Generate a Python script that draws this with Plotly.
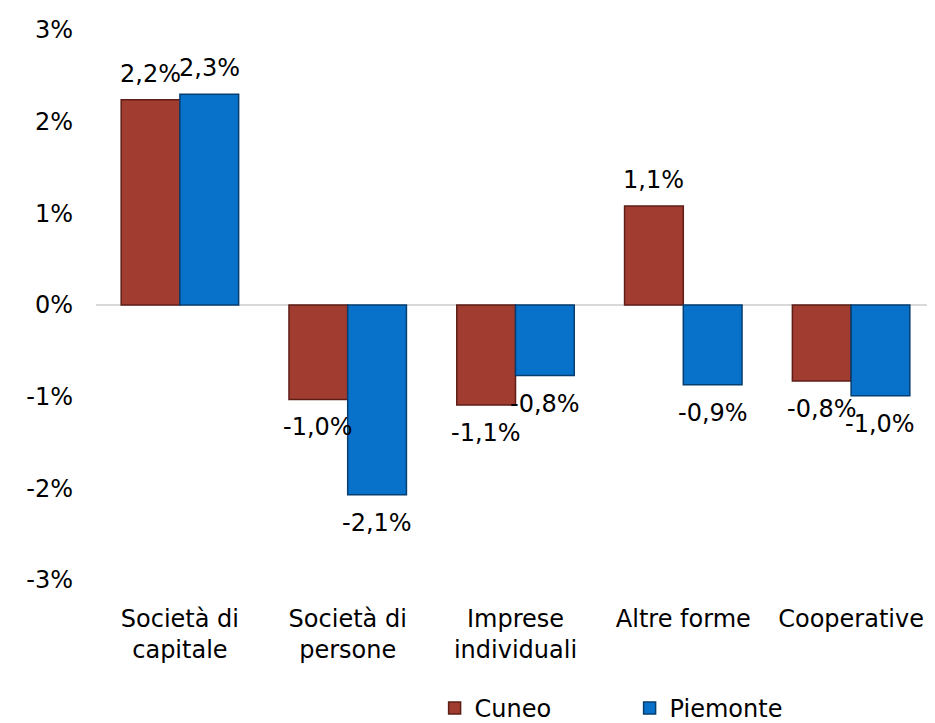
import plotly.graph_objects as go

categories = ["Società di<br>capitale", "Società di<br>persone", "Imprese<br>individuali", "Altre forme", "Cooperative"]
cuneo = [2.24, -1.03, -1.09, 1.08, -0.83]
piemonte = [2.30, -2.07, -0.77, -0.87, -0.99]
tick_vals = [-3, -2, -1, 0, 1, 2, 3]
tick_text = ["-3%", "-2%", "-1%", "0%", "1%", "2%", "3%"]

FONT = "DejaVu Sans"
FS = 24

def fmt(v):
    return f"{v:.1f}".replace(".", ",") + "%"

fig = go.Figure()
fig.add_trace(go.Bar(name="Cuneo", x=categories, y=cuneo,
                     marker=dict(color="#A13C30", line=dict(color="#5E1E17", width=1.5))))
fig.add_trace(go.Bar(name="Piemonte", x=categories, y=piemonte,
                     marker=dict(color="#0872CB", line=dict(color="#063E70", width=1.5))))

bar_px = 839 / 5 * 0.7 / 2
for series, shift in ((cuneo, -bar_px / 2), (piemonte, bar_px / 2)):
    for c, v in zip(categories, series):
        fig.add_annotation(x=c, y=v, text=fmt(v), showarrow=False,
                           xshift=shift, yshift=10 if v > 0 else -12,
                           yanchor="bottom" if v > 0 else "top",
                           font=dict(family=FONT, size=FS, color="#000"))

fig.update_layout(
    width=935, height=723,
    margin=dict(l=88, r=8, t=22, b=151),
    paper_bgcolor="white", plot_bgcolor="white",
    barmode="group", bargap=0.30, bargroupgap=0,
    font=dict(family=FONT, size=FS, color="#000"),
    showlegend=True,
    legend=dict(orientation="h", x=0.636, xanchor="center", yref="container",
                y=0.0, yanchor="bottom",
                font=dict(family=FONT, size=FS), itemwidth=30, entrywidth=150,
                traceorder="normal"),
)
fig.update_xaxes(showgrid=False, showline=False, ticks="", tickfont=dict(size=FS),
                 ticklabelstandoff=22)
fig.update_yaxes(range=[-3, 3], tickvals=tick_vals, ticktext=tick_text, showgrid=False,
                 zeroline=True, zerolinecolor="#D9D9D9", zerolinewidth=1.5,
                 ticklabelstandoff=22, showline=False, tickfont=dict(size=FS))

fig.write_html("out.html")
